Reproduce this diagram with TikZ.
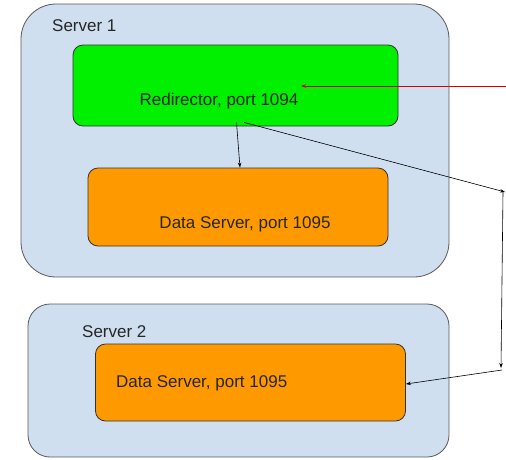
\documentclass[tikz,border=0pt]{standalone}
\usepackage{fontspec}
\setmainfont{Liberation Sans}
\usetikzlibrary{arrows.meta}
\definecolor{hostblue}{RGB}{207,223,240}
\definecolor{redirgreen}{RGB}{0,240,0}
\definecolor{dataorange}{RGB}{255,153,0}
\begin{document}
\begin{tikzpicture}[x=1pt,y=-1pt]
    \tikzstyle{every node}+=[inner sep=0pt]
    \tikzstyle{host}=[draw=black!65, fill=hostblue, line width=0.8pt]
    \tikzstyle{svc}=[draw=black!80, line width=0.8pt, rounded corners=10pt]
    \tikzstyle{conn}=[-{Stealth[length=5pt,width=3.5pt]}, line width=0.6pt]
    \tikzstyle{lbl}=[font=\fontsize{17}{20}\selectfont, text=black!85]
    \useasboundingbox (0,0) rectangle (506,459);
    % servers
    \node [host, rounded corners=35pt, minimum width=428pt, minimum height=273pt] (srv1) at (235,140.5) {};
    \node [lbl, anchor=west] (srv1lbl) at (52,26) {Server 1};
    \node [host, rounded corners=22pt, minimum width=421pt, minimum height=153pt] (srv2) at (238.5,380.5) {};
    \node [lbl, anchor=west] (srv2lbl) at (82,332) {Server 2};
    % services
    \node [svc, fill=redirgreen, minimum width=325pt, minimum height=81pt] (redir) at (235.5,85.5) {};
    \node [lbl] (redirlbl) at (219,101) {Redirector, port 1094};
    \node [svc, fill=dataorange, minimum width=300pt, minimum height=78pt] (data1) at (238,207) {};
    \node [lbl] (data1lbl) at (245,224) {Data Server, port 1095};
    \node [svc, fill=dataorange, minimum width=310pt, minimum height=77pt] (data2) at (250.5,382.5) {};
    \node [lbl, anchor=west] (data2lbl) at (116,383) {Data Server, port 1095};
    % connectors
    \coordinate (client) at (506,86);
    \coordinate (hit) at (301,86);
    \coordinate (top) at (505,192);
    \coordinate (bot) at (501,368);
    \coordinate (turn) at (502,370);
    \draw [conn, red!85!black] (client) -- (hit);
    \draw [conn] ([xshift=1pt,yshift=4pt]redir.south) -- ([xshift=2pt]data1.north);
    \draw [conn] ([xshift=8.5pt,yshift=4pt]redir.south) -- (top);
    \draw [conn] ([xshift=-2pt]top) -- (bot);
    \draw [conn] (turn) -- ([yshift=-1.5pt]data2.east);
\end{tikzpicture}
\end{document}
